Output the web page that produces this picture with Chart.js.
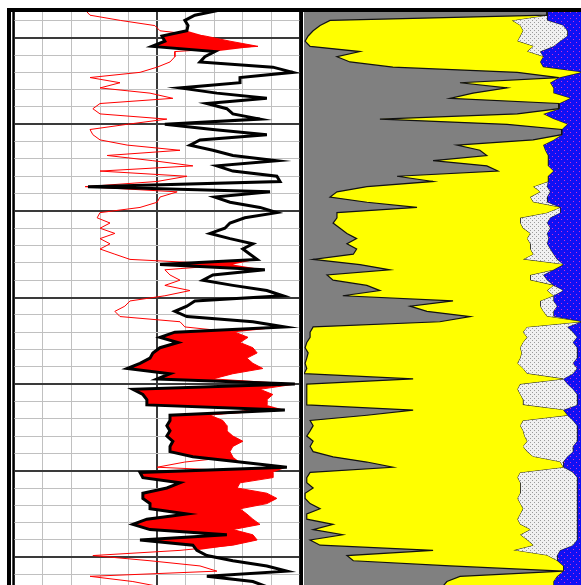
<!DOCTYPE html>
<html>
<head>
<meta charset="utf-8">
<script src="https://cdn.jsdelivr.net/npm/chart.js@4.4.1/dist/chart.umd.min.js"></script>
<style>
  html, body { margin: 0; padding: 0; background: #fff; overflow: hidden; }
  #wrap { position: relative; width: 581px; height: 585px; }
  #logL { position: absolute; left: 0; top: 0; }
  #logR { position: absolute; left: 300px; top: 0; }
</style>
</head>
<body>
<div id="wrap">
  <canvas id="logL" width="303" height="585"></canvas>
  <canvas id="logR" width="281" height="585"></canvas>
</div>
<script>
// depth samples (shared by every curve)
const depth = [984, 987, 990, 993, 996, 999, 1002, 1005, 1008, 1011, 1014, 1017, 1020, 1023, 1026, 1029,
  1032, 1035, 1038, 1041, 1044, 1047, 1050, 1053, 1056, 1059, 1062, 1065, 1068, 1071, 1074, 1077, 1080,
  1083, 1086, 1089, 1092, 1095, 1098, 1101, 1104, 1107, 1110, 1113, 1116, 1119, 1122, 1125, 1128, 1131,
  1134, 1137, 1140, 1143, 1146, 1149, 1152, 1155, 1158, 1161, 1164, 1167, 1170, 1173, 1176, 1179, 1182,
  1185, 1188, 1191, 1194, 1197, 1200, 1203, 1206, 1209, 1212, 1215, 1218, 1221, 1224, 1227, 1230, 1233,
  1236, 1239, 1242, 1245, 1248, 1251, 1254, 1257, 1260, 1263, 1266, 1269, 1272, 1275, 1278, 1281, 1284,
  1287, 1290, 1293, 1296, 1299, 1302, 1305, 1308, 1311, 1314, 1317];

// left track curves (0-100 track units)
const blackCurve = [72.0, 63.2, 59.7, 60.8, 60.4, 51.7, 52.7, 48.2, 70.2, 66.7,
  65.0, 90.5, 97.5, 79.0, 79.0, 58.0, 70.9, 88.4, 67.4, 74.4,
  76.5, 86.0, 52.7, 69.5, 88.4, 65.0, 61.5, 69.5, 76.5, 91.9,
  70.9, 76.5, 91.9, 93.0, 25.8, 89.5, 70.2, 75.5, 86.0, 91.9,
  80.7, 75.5, 73.7, 68.5, 75.5, 83.5, 80.0, 82.5, 85.0, 51.0,
  87.7, 69.5, 66.0, 76.5, 88.4, 94.0, 63.2, 60.4, 56.2, 60.4,
  83.5, 94.7, 56.2, 51.0, 57.3, 51.0, 48.5, 47.5, 44.0, 39.5,
  54.5, 50.0, 98.2, 41.5, 45.0, 46.4, 46.4, 94.7, 54.5, 54.5,
  53.4, 54.5, 53.4, 55.5, 54.5, 54.5, 62.5, 79.0, 95.4, 44.0,
  45.0, 58.0, 53.4, 45.0, 45.0, 47.5, 47.5, 60.4, 46.4, 41.5,
  47.5, 74.4, 44.0, 62.5, 63.9, 67.4, 76.5, 88.4, 95.4, 67.4, 83.5, 88.4];

const redCurve = [24.8, 26.5, 37.1, 49.2, 51.0, 66.7, 75.5, 85.3, 56.2, 56.2,
  54.5, 50.0, 44.0, 26.5, 37.0, 30.0, 47.5, 55.5, 30.0, 27.5,
  30.0, 53.4, 39.5, 26.5, 27.5, 30.0, 39.5, 58.0, 32.5, 48.5,
  62.5, 30.0, 60.4, 50.0, 24.8, 57.0, 51.0, 50.0, 44.0, 30.0,
  29.0, 33.5, 30.0, 35.2, 30.0, 33.5, 30.0, 35.2, 40.5, 76.5,
  52.7, 54.5, 58.0, 52.7, 61.5, 52.7, 40.5, 38.7, 35.2, 37.0,
  58.0, 59.7, 77.2, 81.8, 79.0, 83.5, 85.0, 81.4, 83.5, 87.0,
  76.5, 69.5, 98.2, 86.0, 90.5, 88.4, 88.4, 82.5, 68.5, 73.0,
  74.4, 74.4, 76.5, 80.0, 76.5, 75.5, 76.5, 59.7, 50.0, 90.5,
  90.5, 79.0, 78.0, 88.4, 91.9, 88.4, 79.0, 81.4, 83.5, 86.0,
  76.5, 83.5, 85.0, 76.5, 58.0, 27.5, 47.5, 65.0, 70.9, 26.5, 41.5, 51.0];

// right track lithology boundaries (0-100 track units)
const shaleEdge = [87.7, 87.7, 9.4, 5.8, 3.3, 1.5, 0.4, 2.2, 20.2, 11.9,
  16.6, 32.1, 77.0, 92, 56.3, 73.3, 61.0, 52.7, 92, 92,
  77.0, 27.4, 73.3, 93, 93, 82.7, 55.2, 63.5, 66, 46.6,
  66, 70, 33.6, 46.6, 22.7, 11.9, 9.4, 22.7, 40.8, 11.9,
  11.9, 10.5, 13.0, 15.5, 19.0, 15.5, 19.0, 17.8, 3.3, 20.2,
  31.0, 8.3, 10.5, 22.7, 27.4, 14.0, 53.8, 38.3, 44.4, 60.0,
  49.0, 3.3, 2.2, 2.2, 1.0, 0.4, 1.5, 1.0, 0.4, 1.0,
  0.0, 39.4, 1.0, 1.0, 1.0, 1.0, 1.0, 39.4, 22.7, 2.2,
  3.3, 2.2, 1.0, 3.3, 2.2, 3.3, 10.5, 22.7, 32.1, 2.2,
  1.0, 1.0, 3.3, 0.4, 0.4, 2.2, 5.8, 1.0, 1.0, 10.5,
  3.3, 14.0, 2.2, 5.8, 46.6, 15.5, 17.8, 52.7, 93.5, 56.3, 51.6, 50.0];

const sandEdge = [87.7, 87.7, 75.0, 78.0, 79.0, 78.0, 77.0, 82.7, 80.5, 86.3,
  85.2, 86.3, 100, 92, 88.8, 90, 90, 96, 92, 92,
  86.3, 90, 95, 93, 93, 90, 86.3, 87, 88, 88,
  88, 90, 88, 88, 82.7, 85.2, 81.6, 82.7, 92.4, 87.7,
  78.0, 78.0, 79.0, 81.6, 80.5, 81.6, 81.6, 82.7, 79.0, 93.5,
  90.0, 81.6, 81.6, 90.0, 87.7, 90.0, 85.2, 85.2, 86.3, 87.7,
  100, 80.5, 79.0, 80.5, 79.0, 78.0, 78.5, 78.0, 77.0, 79.0,
  80.5, 93.5, 78.0, 77.0, 78.0, 79.0, 79.0, 93.5, 95.0, 79.0,
  78.0, 79.0, 79.5, 80.5, 79.0, 80.5, 82.7, 92.4, 93.5, 78.0,
  77.0, 78.0, 78.0, 78.0, 77.0, 78.0, 79.0, 78.0, 77.0, 78.0,
  81.6, 78.0, 80.5, 82.7, 75.5, 87.7, 91.3, 93.5, 93.5, 91.3, 90.0, 90.0];

const limeEdge = [87.7, 87.7, 87.7, 93.5, 95.0, 95.0, 92.4, 90.0, 85.2, 86.3,
  85.2, 86.3, 100, 92, 88.8, 90, 90, 96, 92, 92,
  86.3, 90, 95, 93, 93, 90, 86.3, 87, 88, 88,
  88, 90, 88, 88, 87.7, 88.8, 87.7, 87.7, 92.4, 92.4,
  88.8, 87.7, 88.8, 87.7, 88.2, 87.7, 88.8, 90.0, 91.3, 93.5,
  90.0, 86.3, 87.7, 90.0, 93.5, 90.0, 90.0, 91.3, 90.0, 90.0,
  100, 95.0, 97.0, 98.5, 97.0, 98.5, 98.5, 98.5, 97.0, 98.5,
  97.0, 93.5, 95.0, 97.0, 98.5, 98.5, 98.5, 93.5, 95.0, 97.0,
  98.5, 98.5, 98.5, 98.5, 97.0, 97.0, 95.0, 93.5, 93.5, 97.0,
  98.5, 98.5, 98.5, 98.5, 98.5, 98.5, 98.5, 98.5, 98.5, 98.5,
  98.5, 98.5, 98.5, 97.0, 92.4, 91.3, 91.3, 93.5, 93.5, 91.3, 90.0, 90.0];

const depthTop = 984;
const depthBottom = 1316;

const pts = vals => vals.map((v, i) => ({ x: v, y: depth[i] }));
// red shading only where the red curve crosses to the right of the black one
const crossover = blackCurve.map((v, i) => Math.max(v, redCurve[i]));

function dotPattern(bg, dot, size) {
  const c = document.createElement('canvas');
  c.width = size; c.height = size;
  const g = c.getContext('2d');
  g.fillStyle = bg; g.fillRect(0, 0, size, size);
  g.fillStyle = dot;
  g.fillRect(0, 0, 1, 1);
  g.fillRect(size / 2, size / 2, 1, 1);
  return g.createPattern(c, 'repeat');
}

const heavy = v => v % 50 === 0;

const frameL = {
  id: 'frameL',
  afterDraw(chart) {
    const { ctx, chartArea: a } = chart;
    ctx.save();
    ctx.fillStyle = '#000';
    ctx.fillRect(7, a.top - 2, chart.width - 7, 4);
    ctx.fillRect(7, a.top - 2, 4, chart.height);
    ctx.fillRect(a.left - 2, a.top, 2, chart.height);
    ctx.fillRect(a.right - 0.5, a.top - 2, 3.5, chart.height);
    ctx.restore();
  }
};

const frameR = {
  id: 'frameR',
  beforeDraw(chart) {
    const { ctx, chartArea: a } = chart;
    ctx.save();
    ctx.fillStyle = '#808080';
    ctx.fillRect(a.left, a.top, a.right - a.left, a.bottom - a.top);
    ctx.restore();
  },
  afterDraw(chart) {
    const { ctx, chartArea: a } = chart;
    ctx.save();
    ctx.fillStyle = '#000';
    ctx.fillRect(0, a.top - 2, chart.width, 4);
    ctx.fillRect(0, a.top - 2, 3, chart.height);
    ctx.restore();
  }
};

const common = {
  indexAxis: 'y',
  responsive: false,
  animation: false,
  devicePixelRatio: 1,
  elements: { point: { radius: 0 }, line: { tension: 0 } },
  plugins: { legend: { display: false }, tooltip: { enabled: false } }
};

new Chart(document.getElementById('logL'), {
  type: 'line',
  data: {
    datasets: [
      { data: pts(blackCurve), borderColor: '#000', borderWidth: 3, fill: false },
      { data: pts(redCurve), borderColor: '#ff0000', borderWidth: 1, fill: false },
      { data: pts(crossover), borderColor: 'rgba(0,0,0,0)', borderWidth: 1, backgroundColor: '#ff0000', fill: 0 }
    ]
  },
  options: {
    ...common,
    layout: { padding: { left: 14.3, right: 3, top: 10, bottom: 0 } },
    scales: {
      x: {
        type: 'linear', position: 'top', min: 0, max: 100,
        ticks: { display: false, stepSize: 10 },
        grid: {
          drawTicks: false,
          color: c => heavy(c.tick.value) ? '#3a3a3a' : '#c0c0c0',
          lineWidth: c => heavy(c.tick.value) ? 2 : 1
        },
        border: { display: false }
      },
      y: {
        type: 'linear', reverse: true, min: depthTop, max: depthBottom,
        ticks: { display: false, stepSize: 10, includeBounds: false },
        grid: {
          drawTicks: false,
          color: c => heavy(c.tick.value) ? '#3a3a3a' : '#c0c0c0',
          lineWidth: c => heavy(c.tick.value) ? 2 : 1
        },
        border: { display: false }
      }
    }
  },
  plugins: [frameL]
});

new Chart(document.getElementById('logR'), {
  type: 'line',
  data: {
    datasets: [
      { data: pts(shaleEdge), borderColor: '#111', borderWidth: 1.2, backgroundColor: '#ffff00', fill: '+1' },
      { data: pts(sandEdge), borderColor: '#222', borderWidth: 1, backgroundColor: dotPattern('#f0f0f0', '#9a9a9a', 4), fill: '+1' },
      { data: pts(limeEdge), borderColor: '#222', borderWidth: 1, backgroundColor: dotPattern('#1010f4', '#d030d0', 6), fill: { value: 100 } }
    ]
  },
  options: {
    ...common,
    layout: { padding: { left: 4, right: 0, top: 10, bottom: 0 } },
    scales: {
      x: { type: 'linear', min: 0, max: 100, display: false },
      y: { type: 'linear', reverse: true, min: depthTop, max: depthBottom, display: false }
    }
  },
  plugins: [frameR]
});
</script>
</body>
</html>
